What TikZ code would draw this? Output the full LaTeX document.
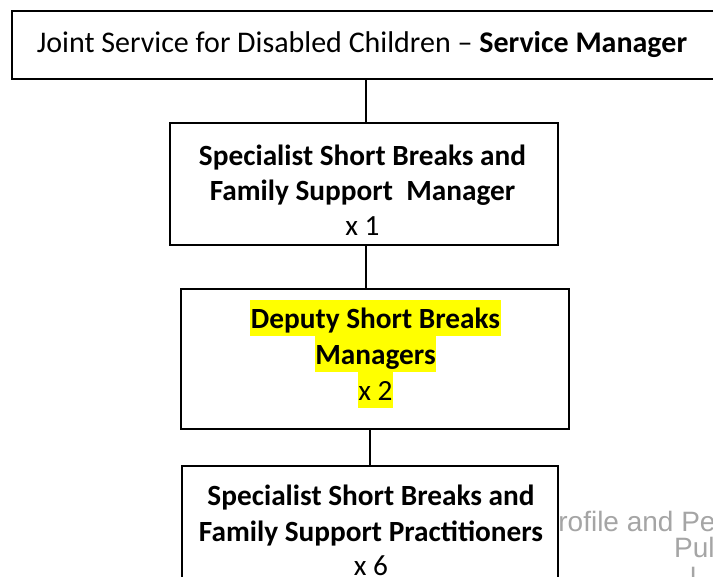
\documentclass[tikz,border=0pt]{standalone}
\usepackage{fontspec}
\usetikzlibrary{calc}
\setmainfont{Carlito}
\newfontfamily\ghostfont{Liberation Sans}
\definecolor{hilite}{RGB}{255,255,0}
\definecolor{ghostgray}{RGB}{165,165,165}
\newcommand\boxfont{\fontsize{29.3}{35}\selectfont}
\newcommand\headfont{\fontsize{30}{36}\selectfont}
\begin{document}
\begin{tikzpicture}[x=1pt,y=-1pt,
  box/.style={draw=black, line width=1.5pt, fill=white, rectangle, inner sep=0pt},
  conn/.style={draw=black, line width=1.5pt},
  ln/.style={anchor=base, inner sep=0pt, font=\boxfont},
  hl/.style={anchor=base, fill=hilite, inner xsep=0.5pt, inner ysep=0pt,
             text height=29pt, text depth=7pt, font=\boxfont},
  ghosttxt/.style={anchor=base west, inner sep=0pt, text=ghostgray,
                   font=\ghostfont\fontsize{28}{31}\selectfont}]
\useasboundingbox (0,0) rectangle (713,577);
\clip (0,0) rectangle (713,577);
\fill[white] (0,0) rectangle (713,577);

% faint text lying underneath the practitioners box
\node[ghosttxt] (ghost-a) at (539.5,531) {Profile and Pe};
\node[ghosttxt] (ghost-b) at (674,558) {Pul};
\node[ghosttxt] (ghost-c) at (690,587) {l};

% boxes
\node[box, minimum width=704pt, minimum height=68pt] (svc) at (364,45) {};
\node[box, minimum width=388pt, minimum height=122pt] (mgr) at (364,184) {};
\node[box, minimum width=388pt, minimum height=140pt] (dep) at (375,359) {};
\node[box, minimum width=376pt, minimum height=160pt] (prac) at (370,546) {};

% connectors
\draw[conn] ($(svc.south -| mgr.north)+(2,0)$) -- ($(mgr.north)+(2,0)$);
\draw[conn] ($(mgr.south)+(2,0)$) -- ($(dep.north -| mgr.south)+(2,0)$);
\draw[conn] (dep.south -| prac.north) -- (prac.north);

% texts
\node[ln, font=\headfont] (svc-t) at (362,53) {Joint Service for Disabled Children – \textbf{Service Manager}};

\node[ln, font=\boxfont\bfseries] (mgr-a) at (362.5,166) {Specialist Short Breaks and};
\node[ln, font=\boxfont\bfseries] (mgr-b) at (362.5,201) {Family Support\ \ Manager};
\node[ln] (mgr-c) at (362.5,236) {x 1};

\node[hl, font=\boxfont\bfseries] (dep-a) at (375.5,329) {Deputy Short Breaks};
\node[hl, font=\boxfont\bfseries] (dep-b) at (375.5,365) {Managers};
\node[hl] (dep-c) at (375.5,401) {x 2};

\node[ln, font=\boxfont\bfseries] (prac-a) at (371,506) {Specialist Short Breaks and};
\node[ln, font=\boxfont\bfseries] (prac-b) at (371,541) {Family Support Practitioners};
\node[ln] (prac-c) at (371,576) {x 6};
\end{tikzpicture}
\end{document}
